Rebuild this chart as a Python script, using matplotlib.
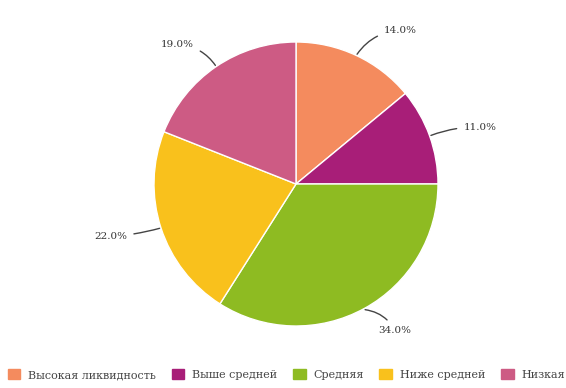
import matplotlib.pyplot as plt
import numpy as np

labels = ['Высокая ликвидность', 'Выше средней', 'Средняя', 'Ниже средней', 'Низкая']
shares = [14.0, 11.0, 34.0, 22.0, 19.0]
colors = ['#F48B5E', '#A81E78', '#8EBB22', '#F9C11C', '#CD5B84']

# where each percentage label sits (data units, pie radius = 1)
label_pos = [(0.62, 1.08), (1.18, 0.40), (0.58, -1.03), (-1.19, -0.37), (-0.72, 0.98)]
label_rad = [0.25, 0.1, 0.25, 0.05, -0.25]

W, H = 566, 388
cx, cy, r = 296, 184, 142

fig = plt.figure(figsize=(W / 100, H / 100), dpi=100)
ax = fig.add_axes([0, 0, 1, 1])
plt.rcParams['font.family'] = ['DejaVu Serif']

wedges, _ = ax.pie(shares, colors=colors, startangle=90, counterclock=False,
                   wedgeprops=dict(edgecolor='white', linewidth=1.0))

start = 90.0
for val, (tx, ty), rad in zip(shares, label_pos, label_rad):
    mid = np.deg2rad(start - val / 100 * 360 / 2)
    start -= val / 100 * 360
    ex, ey = 1.01 * np.cos(mid), 1.01 * np.sin(mid)
    ha = 'left' if tx > 0 else 'right'
    ax.annotate(f'{val:.1f}%', xy=(ex, ey), xytext=(tx, ty), ha=ha, va='center',
                fontsize=7.5, color='#333333', family='DejaVu Serif',
                arrowprops=dict(arrowstyle='-', color='#444444', lw=1.0,
                                shrinkA=3, shrinkB=0,
                                connectionstyle=f'arc3,rad={rad}'))

ax.set_xlim(-cx / r, (W - cx) / r)
ax.set_ylim(-(H - cy) / r, cy / r)
ax.set_aspect('equal')
ax.axis('off')

handles = [plt.Rectangle((0, 0), 1, 1, color=c) for c in colors]
fig.legend(handles, labels, loc='lower center', bbox_to_anchor=(0.506, -0.005), ncol=5,
           frameon=False, handlelength=1.15, handleheight=0.95, handletextpad=0.7,
           columnspacing=1.4, prop={'family': 'DejaVu Serif', 'size': 8},
           labelcolor='#444444')

fig.savefig('out.png', dpi=100)
